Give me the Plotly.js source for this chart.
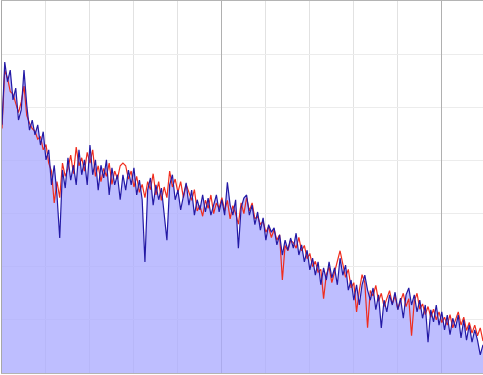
<!DOCTYPE html>
<html>
<head>
<meta charset="utf-8">
<script src="https://cdn.plot.ly/plotly-3.0.1.min.js"></script>
<style>html,body{margin:0;padding:0;background:#fff;}#chart{width:483px;height:375px;}</style>
</head>
<body>
<div id="chart"></div>
<script>
// Sample values (index-based x axis)
const blueSeries = [
4.67,5.85,5.48,5.70,5.14,5.36,4.76,4.95,5.70,5.04,
4.57,4.76,4.48,4.67,4.29,4.54,4.01,4.20,3.54,3.91,
3.35,2.54,3.82,3.48,4.05,3.63,3.91,3.54,4.20,3.73,
4.01,3.54,4.29,3.73,4.01,3.44,3.91,3.67,4.01,3.35,
3.86,3.54,3.73,3.26,3.73,3.44,3.82,3.54,3.86,3.35,
3.63,3.26,2.09,3.44,3.67,3.16,3.54,3.26,3.48,2.97,
2.50,3.54,3.73,3.26,3.44,3.07,3.35,3.58,3.16,3.44,
2.97,3.26,3.07,3.35,3.03,3.29,2.97,3.16,3.35,3.03,
3.26,2.97,3.59,3.16,2.97,3.26,2.35,3.11,3.29,3.35,
2.97,3.16,2.79,3.03,2.69,2.92,2.50,2.79,2.65,2.73,
2.41,2.60,2.22,2.50,2.31,2.54,2.35,2.63,2.22,2.41,
2.09,2.31,1.94,2.16,1.84,2.09,1.66,1.98,1.75,2.09,
1.79,1.98,1.66,2.16,1.84,2.03,1.56,1.75,1.37,1.66,
1.28,1.66,1.84,1.56,1.37,1.60,1.19,1.47,0.85,1.37,
1.15,1.47,1.28,1.52,1.19,1.41,1.03,1.47,1.60,1.28,
1.47,1.15,1.37,1.03,1.28,0.58,1.19,0.96,1.28,0.90,
1.15,0.81,1.09,0.72,1.03,0.85,1.09,0.66,1.00,0.62,
0.90,0.58,0.81,0.62,0.34,0.53
];
const redSeries = [
4.60,5.70,5.55,5.30,5.25,5.05,4.90,5.10,5.40,4.85,
4.70,4.60,4.55,4.40,4.45,4.20,4.30,3.95,3.80,3.20,
3.60,3.30,3.95,3.70,3.85,4.10,3.75,4.25,3.90,4.05,
3.80,4.15,3.95,4.20,3.70,3.90,3.60,3.85,3.70,3.95,
3.55,3.80,3.65,3.90,3.95,3.90,3.65,3.80,3.50,3.70,
3.40,3.55,3.30,3.60,3.45,3.75,3.35,3.60,3.25,3.50,
3.30,3.80,3.50,3.65,3.40,3.60,3.30,3.55,3.40,3.25,
3.45,3.05,3.15,2.95,3.25,3.10,3.35,3.00,3.20,3.10,
3.30,3.05,3.25,2.90,3.15,3.00,2.80,3.20,3.00,3.30,
3.05,3.20,2.90,2.95,2.80,2.85,2.65,2.75,2.55,2.70,
2.50,2.60,1.75,2.40,2.30,2.50,2.45,2.35,2.55,2.30,
2.40,2.15,2.25,2.00,2.10,1.90,1.95,1.40,1.85,2.00,
1.70,1.90,2.10,2.30,2.05,1.80,1.95,1.60,1.70,1.15,
1.55,1.85,1.70,0.85,1.55,1.45,1.65,1.35,1.50,1.25,
1.40,1.55,1.30,1.45,1.20,1.35,1.50,1.25,1.40,0.70,
1.35,1.50,1.20,1.30,1.10,1.25,1.05,1.20,1.00,1.15,
0.95,1.05,0.90,1.10,0.85,1.00,1.15,0.90,1.05,0.80,
0.95,0.75,0.90,0.70,0.85,0.60
];
const xIdx = blueSeries.map((_, i) => i);

const traces = [
  {x: xIdx, y: blueSeries, type: 'scatter', mode: 'lines', fill: 'tozeroy',
   fillcolor: 'rgba(170,170,255,0.76)', line: {width: 0, color: 'rgba(0,0,0,0)'}, hoverinfo: 'skip'},
  {x: xIdx, y: redSeries, type: 'scatter', mode: 'lines', line: {color: 'rgb(240,45,30)', width: 1.2}},
  {x: xIdx, y: blueSeries, type: 'scatter', mode: 'lines', line: {color: 'rgb(35,25,165)', width: 1.2}}
];

const layout = {
  width: 483, height: 375,
  margin: {l: 2, r: 0, t: 1, b: 2, pad: 0},
  paper_bgcolor: '#fff', plot_bgcolor: '#fff',
  showlegend: false,
  xaxis: {range: [0, 175], dtick: 80, tick0: 0, showticklabels: false, ticks: '',
          gridcolor: '#b0b0b0', zeroline: false, showline: true, mirror: true, linecolor: '#b4b4b4', linewidth: 1,
          minor: {dtick: 16, tick0: 0, showgrid: true, gridcolor: '#e2e2e2', ticks: ''}},
  yaxis: {range: [0, 7], dtick: 7, tick0: 0, showticklabels: false, ticks: '',
          gridcolor: '#b0b0b0', zeroline: false, showline: true, linecolor: '#a8a8a8', linewidth: 1,
          minor: {dtick: 1, tick0: 0, showgrid: true, gridcolor: '#ececec', ticks: ''}}
};

Plotly.newPlot('chart', traces, layout, {staticPlot: true, displayModeBar: false});
</script>
</body>
</html>
